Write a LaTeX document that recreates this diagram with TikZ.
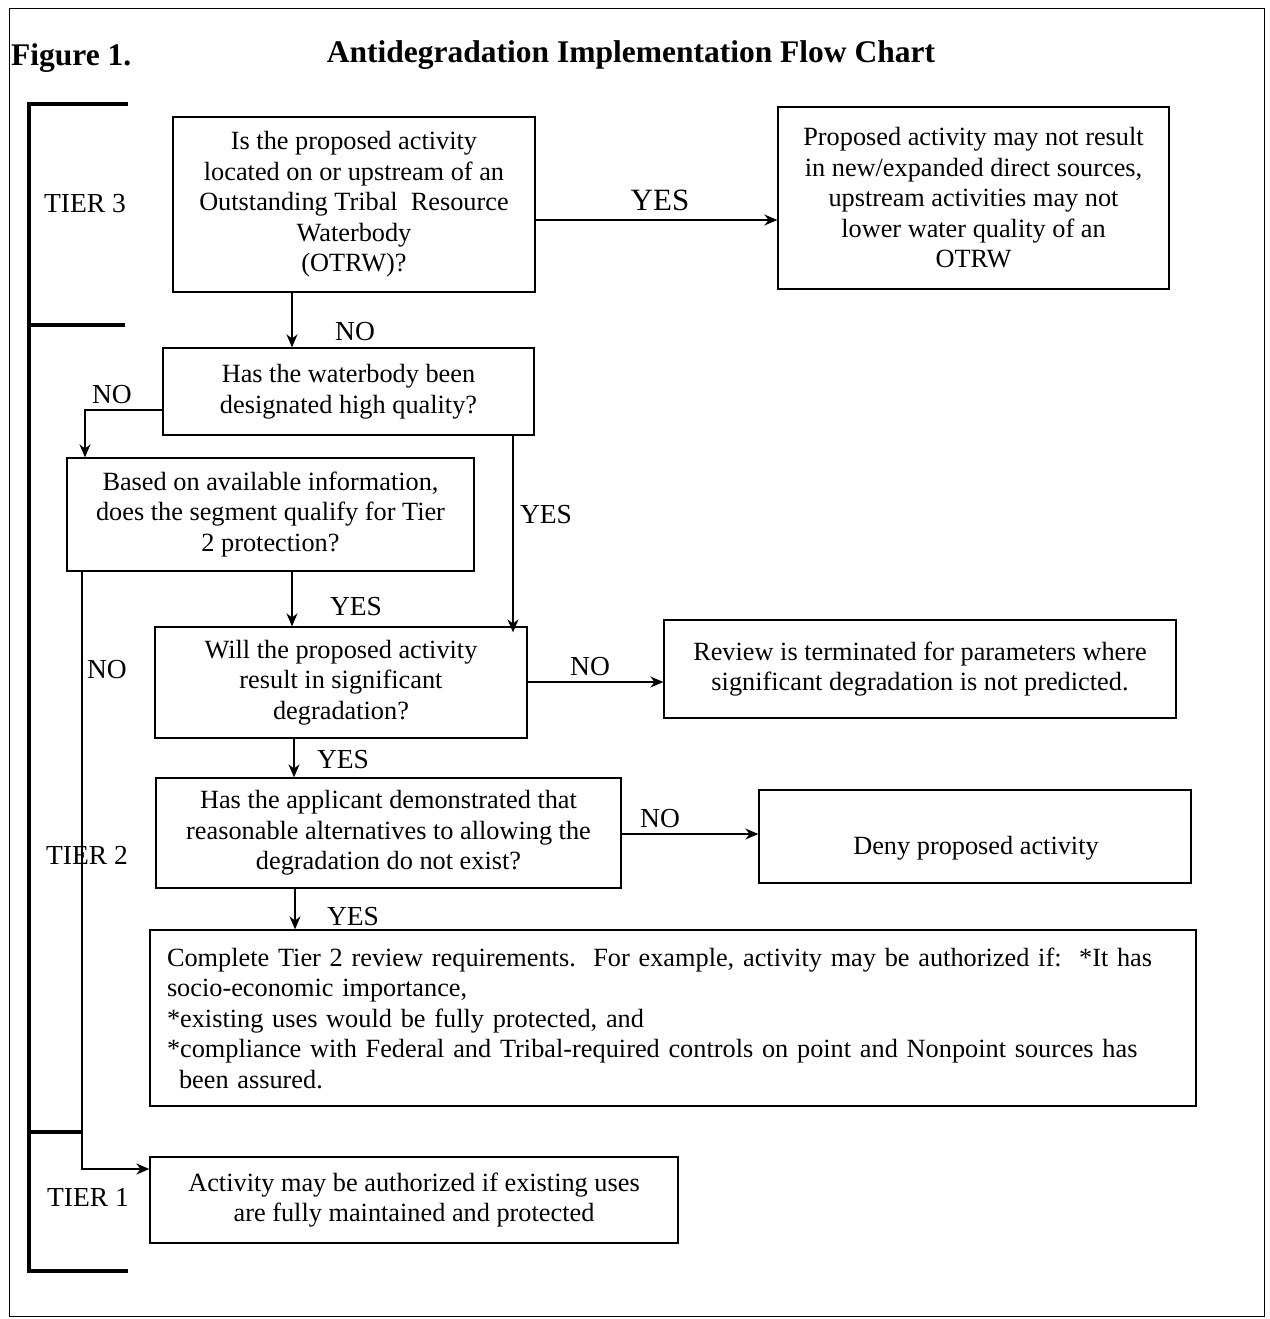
\documentclass[tikz,border=0pt]{standalone}
\usepackage{fontspec}
\setmainfont{Liberation Serif}
\usetikzlibrary{arrows.meta}
\begin{document}
\begin{tikzpicture}[x=1pt,y=-1pt,
  box/.style={draw,line width=1.3pt,inner sep=0pt,align=center,
    font=\fontsize{26.3}{30.5}\selectfont},
  lbl/.style={font=\fontsize{27.5}{30}\selectfont,inner sep=0pt},
  arr/.style={line width=1.8pt,-{Stealth[length=13pt,width=11pt]}},
  brk/.style={line width=4pt}]
\useasboundingbox (0,0) rectangle (1269,1319);
% outer frame
\draw[line width=1pt] (9,9) rectangle (1264,1316);
% title
\node[font=\bfseries\fontsize{31.5}{34}\selectfont,inner sep=0pt,anchor=west] (fig) at (11,58) {Figure 1.};
\node[font=\bfseries\fontsize{31.5}{34}\selectfont,inner sep=0pt] (title) at (631,55) {Antidegradation Implementation Flow Chart};
% tier bracket
\coordinate (bt) at (29,104);
\coordinate (bb) at (29,1271);
\draw[brk] (128,104) -- (bt) -- (bb) -- (128,1271);
\draw[brk] (29,325) -- (125,325);
\draw[brk] (29,1132) -- (82,1132);
\node[lbl] (t3) at (85,204) {TIER 3};
\node[lbl] (t2) at (87,855) {TIER 2};
\node[lbl] (t1) at (88,1197) {TIER 1};
% boxes
\node[box,minimum width=362,minimum height=175] (b1) at (354,204.5)
 {Is the proposed activity\\located on or upstream of an\\Outstanding Tribal\ \ Resource\\Waterbody\\(OTRW)?};
\node[box,minimum width=391,minimum height=182] (b2) at (973.5,198)
 {Proposed activity may not result\\in new/expanded direct sources,\\upstream activities may not\\lower water quality of an\\OTRW};
\node[box,minimum width=371,minimum height=87] (b3) at (348.5,391.5)
 {Has the waterbody been\\designated high quality?};
\node[box,minimum width=407,minimum height=113] (b4) at (270.5,514.5)
 {Based on available information,\\does the segment qualify for Tier\\2 protection?};
\node[box,minimum width=372,minimum height=111] (b5) at (341,682.5)
 {Will the proposed activity\\result in significant\\degradation?};
\node[box,minimum width=512,minimum height=98] (b6) at (920,669)
 {Review is terminated for parameters where\\significant degradation is not predicted.};
\node[box,minimum width=465,minimum height=110] (b7) at (388.5,833)
 {Has the applicant demonstrated that\\reasonable alternatives to allowing the\\degradation do not exist?};
\node[box,minimum width=432,minimum height=93] (b8) at (975,836.5) {};
\node[font=\fontsize{26.3}{30.5}\selectfont,inner sep=0pt] (b8t) at (976,848) {Deny proposed activity};
\node[box,minimum width=1046,minimum height=176,align=left,text width=1012] (b9) at (673,1018)
 {Complete Tier 2 review requirements.\ \ For example, activity may be authorized if:\ \ {*}It has\\
  socio-economic importance,\\
  {*}existing uses would be fully protected, and\\
  {*}compliance with Federal and Tribal-required controls on point and Nonpoint sources has\\
  \hspace*{12pt}been assured.};
\node[box,minimum width=528,minimum height=86] (b10) at (414,1200)
 {Activity may be authorized if existing uses\\are fully maintained and protected};
% helper coordinates
\coordinate (y220) at (0,220);
\coordinate (x292) at (292,0);
\coordinate (y410) at (0,410);
\coordinate (k1) at (85,410);
\coordinate (x513) at (513,0);
\coordinate (y682) at (0,682);
\coordinate (x294) at (294,0);
\coordinate (y834) at (0,834);
\coordinate (x295) at (295,0);
\coordinate (x82) at (82,0);
\coordinate (k2) at (82,1169);
% connectors
\draw[arr] (b1.east |- y220) -- (b2.west |- y220);
\draw[arr] (b1.south -| x292) -- (b3.north -| x292);
\draw[arr] (b3.west |- y410) -- (k1) -- (k1 |- b4.north);
\draw[arr] (b3.south -| x513) -- ([yshift=-6pt]b5.north -| x513);
\draw[arr] (b4.south -| x292) -- (b5.north -| x292);
\draw[arr] (b4.south -| x82) -- (k2) -- (b10.west |- k2);
\draw[arr] (b5.east |- y682) -- (b6.west |- y682);
\draw[arr] (b5.south -| x294) -- (b7.north -| x294);
\draw[arr] (b7.east |- y834) -- (b8.west |- y834);
\draw[arr] (b7.south -| x295) -- (b9.north -| x295);
% connector labels
\node[lbl,font=\fontsize{31}{32}\selectfont] (l1) at (660,200) {YES};
\node[lbl] (l2) at (355,332) {NO};
\node[lbl] (l3) at (112,395) {NO};
\node[lbl] (l4) at (546,515) {YES};
\node[lbl] (l5) at (356,607) {YES};
\node[lbl] (l6) at (107,670) {NO};
\node[lbl] (l7) at (590,667) {NO};
\node[lbl] (l8) at (343,760) {YES};
\node[lbl] (l9) at (660,819) {NO};
\node[lbl] (l10) at (353,917) {YES};
\end{tikzpicture}
\end{document}
